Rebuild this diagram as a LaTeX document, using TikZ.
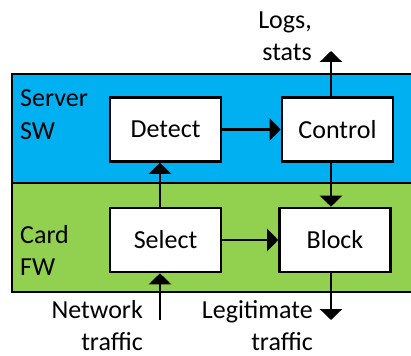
\documentclass[tikz,border=0pt]{standalone}
\usepackage{fontspec}
\setmainfont{Carlito}
\usetikzlibrary{arrows.meta}
\definecolor{swblue}{HTML}{00B0F0}
\definecolor{fwgreen}{HTML}{92D050}
\begin{document}
\begin{tikzpicture}[x=1pt,y=-1pt,
  every node/.style={font=\fontsize{26}{32}\selectfont},
  block/.style={draw=black,fill=white,line width=2.6pt,minimum width=111pt,minimum height=64pt,inner sep=0pt},
  lbl/.style={inner sep=0pt},
  arr/.style={line width=2.6pt,-{Triangle[width=22pt,length=11pt]}},
  layer/.style={draw=black,line width=2.6pt}]
\useasboundingbox (0,0) rectangle (411,355);
\clip (0,0) rectangle (411,355);
% layers
\fill[swblue] (12,74) rectangle (430,183);
\fill[fwgreen] (12,183) rectangle (430,292);
\draw[layer] (430,74) -- (12,74) -- (12,292) -- (430,292);
\draw[layer] (12,183) -- (430,183);
\node[lbl,anchor=base west] (srv1) at (20,107) {Server};
\node[lbl,anchor=base west] (srv2) at (20,140) {SW};
\node[lbl,anchor=base west] (card1) at (20,243) {Card};
\node[lbl,anchor=base west] (card2) at (20,275) {FW};
% processing blocks
\node[block] (detect) at (165.5,129.5) {Detect};
\node[block] (control) at (337.5,129.5) {Control};
\node[block] (select) at (165.5,240) {Select};
\node[block] (blockn) at (335,240) {Block};
% external ends
\coordinate (logsout) at (331,51);
\coordinate (netin) at (160,320);
\coordinate (legout) at (331,320);
\node[lbl,anchor=base east] (logs1) at (312,29) {Logs,};
\node[lbl,anchor=base east] (logs2) at (312,61) {stats};
\node[lbl,anchor=base east] (net1) at (143,318) {Network};
\node[lbl,anchor=base east] (net2) at (143,350) {traffic};
\node[lbl,anchor=base east] (leg1) at (313,318) {Legitimate};
\node[lbl,anchor=base east] (leg2) at (313,350) {traffic};
% connectors
\draw[arr] (detect.east) -- (control.west);
\draw[arr] (select.east) -- (blockn.west);
\draw[arr] (select.north -| netin) -- (detect.south -| netin);
\draw[arr] (control.north -| logsout) -- (logsout);
\draw[arr] (control.south -| logsout) -- (blockn.north -| logsout);
\draw[arr] (netin) -- (select.south -| netin);
\draw[arr] (blockn.south -| legout) -- (legout);
\end{tikzpicture}
\end{document}
